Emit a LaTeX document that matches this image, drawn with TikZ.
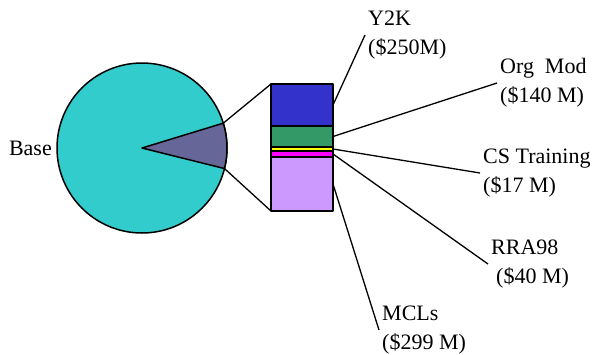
\documentclass[tikz,border=0pt]{standalone}
\usepackage{fontspec}
\setmainfont{Liberation Serif}
\usepackage{xcolor}
\definecolor{piecyan}{RGB}{51,204,204}
\definecolor{wedgeblue}{RGB}{102,102,153}
\definecolor{segblue}{RGB}{51,51,204}
\definecolor{seggreen}{RGB}{51,153,102}
\definecolor{segyellow}{RGB}{255,255,0}
\definecolor{segmagenta}{RGB}{255,0,255}
\definecolor{seglav}{RGB}{204,153,255}
\usepackage{tikz}
\usetikzlibrary{calc}

\begin{document}
\begin{tikzpicture}[x=1pt,y=1pt,line join=round,font=\fontsize{22}{29}\selectfont]
	\tikzstyle{seg}=[draw,line width=1.6pt,rectangle,anchor=north west,inner sep=0,outer sep=0,minimum width=62pt];
	\tikzstyle{lbl}=[anchor=west,align=left,inner sep=3pt];
	\tikzstyle{lead}=[line width=1.3pt];
	\useasboundingbox (0,0) rectangle (597,-354);
	%% pie
	\node[circle,draw,line width=1.5pt,fill=piecyan,minimum size=170pt,inner sep=0,outer sep=0,
		label={[name=base,inner sep=5pt]left:Base}] (pie) at (142,-148) {};
	\draw[line width=1.5pt,fill=wedgeblue] (pie.center) -- (pie.17) arc[start angle=17,end angle=-14,radius=85pt] -- cycle;
	%% bar
	\node[seg,fill=segblue,minimum height=42pt]   (y2k) at (271,-84)  {};
	\node[seg,fill=seggreen,minimum height=21pt]  (org) at (271,-126) {};
	\node[seg,fill=segyellow,minimum height=4pt]  (cst) at (271,-147) {};
	\node[seg,fill=segmagenta,minimum height=6pt] (rra) at (271,-151) {};
	\node[seg,fill=seglav,minimum height=54pt]    (mcl) at (271,-157) {};
	%%
	\draw[lead] (pie.17) -- (y2k.north west);
	\draw[lead] (pie.-14) -- (mcl.south west);
	%% labels
	\node[lbl] (y2kl) at (365,-35)  {Y2K\\(\$250M)};
	\node[lbl] (orgl) at (497,-83)  {Org\ \ Mod\\(\$140 M)};
	\node[lbl] (cstl) at (480,-173) {CS Training\\(\$17 M)};
	\node[lbl] (rral) at (488,-264) {RRA98\\\hspace{5pt}(\$40 M)};
	\node[lbl] (mcll) at (379,-330) {MCLs\\(\$299 M)};
	%%
	\draw[lead] (y2k.east) -- (y2kl.west);
	\draw[lead] (org.east) -- (orgl.west);
	\draw[lead] (cst.east) -- (cstl.west);
	\draw[lead] (rra.east) -- (rral.west);
	\draw[lead] (mcl.east) -- (mcll.west);
\end{tikzpicture}
\end{document}
